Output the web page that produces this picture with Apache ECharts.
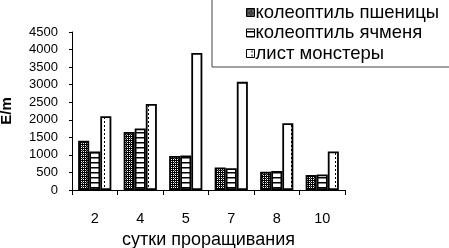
<!DOCTYPE html>
<html><head><meta charset="utf-8">
<script src="https://cdn.jsdelivr.net/npm/echarts@6/dist/echarts.min.js"></script>
<style>html,body{margin:0;padding:0;background:#fff}#c{width:449px;height:248px}</style>
</head><body><div id="c"></div>
<script>
const categories = ['2', '4', '5', '7', '8', '10'];
const wheat = [1400, 1650, 970, 640, 520, 430];
const barley = [1100, 1750, 980, 620, 540, 440];
const monstera = [2100, 2450, 3900, 3080, 1900, 1100];
const seriesNames = ['колеоптиль пшеницы', 'колеоптиль ячменя', 'лист монстеры'];
const yTicks = {min: 0, max: 4500, interval: 500};

function mk(w, h, draw) { const c = document.createElement('canvas'); c.width = w; c.height = h; const g = c.getContext('2d'); draw(g); return c; }
const patWheat = mk(4, 4, g => { g.fillStyle = '#000'; g.fillRect(0,0,4,4); g.fillStyle = '#fff'; g.fillRect(1,1,1,1); g.fillRect(3,3,1,1); g.fillRect(3,1,1,1); g.fillRect(1,3,1,1); g.fillStyle='#777'; g.fillRect(2,2,1,1); });
const patBarley = mk(5, 5, g => { g.fillStyle = '#fff'; g.fillRect(0,0,5,5); g.fillStyle = '#000'; g.fillRect(0,2,5,1.5); });
const patMon = mk(11, 4, g => { g.fillStyle = '#fff'; g.fillRect(0,0,11,4); g.fillStyle = '#000'; g.fillRect(5,1,1,2); });

const font = 'Liberation Sans, Arial, sans-serif';
const chart = echarts.init(document.getElementById('c'), null, {renderer: 'canvas'});
const mkSeries = (name, data, pat) => ({
  name, type: 'bar', data, barGap: '0%', barCategoryGap: '27%',
  itemStyle: {color: {image: pat, repeat: 'repeat'}, borderColor: '#000', borderWidth: 1.8},
  emphasis: {disabled: true}
});
chart.setOption({
  animation: false,
  textStyle: {fontFamily: font, color: '#000'},
  legend: {
    orient: 'vertical', left: 212, top: -4, width: 236,
    padding: [7, 30, 4, 34], itemGap: 1.5, itemWidth: 8, itemHeight: 8,
    borderColor: '#444', borderWidth: 1,
    textStyle: {fontFamily: font, fontSize: 18.5, color: '#000', padding: [0, 0, 0, -4]},
    data: seriesNames.map(n => ({name: n, icon: 'rect', itemStyle: {borderColor: '#000', borderWidth: 1}}))
  },
  grid: {left: 72, right: 104, top: 32, bottom: 58, outerBoundsMode: 'none', containLabel: false},
  xAxis: {
    type: 'category', data: categories,
    name: 'сутки проращивания', nameLocation: 'middle', nameGap: 36,
    nameTextStyle: {fontSize: 18, color: '#000', fontFamily: font},
    axisLine: {lineStyle: {color: '#000', width: 1}},
    axisTick: {show: true, length: 5, lineStyle: {color: '#000'}},
    axisLabel: {fontSize: 14.5, color: '#000', margin: 21, fontFamily: font}
  },
  yAxis: {
    type: 'value', min: yTicks.min, max: yTicks.max, interval: yTicks.interval,
    name: 'E/m', nameLocation: 'middle', nameGap: 58, nameRotate: 90,
    nameTextStyle: {fontSize: 15, fontWeight: 'bold', color: '#000', fontFamily: font},
    splitLine: {show: false},
    axisLine: {show: true, lineStyle: {color: '#000', width: 1}},
    axisTick: {show: true, length: 3, lineStyle: {color: '#000'}},
    axisLabel: {fontSize: 13, color: '#000', margin: 14, fontFamily: font, formatter: v => String(v)}
  },
  series: [
    mkSeries(seriesNames[0], wheat, patWheat),
    mkSeries(seriesNames[1], barley, patBarley),
    mkSeries(seriesNames[2], monstera, patMon)
  ]
});
</script></body></html>
